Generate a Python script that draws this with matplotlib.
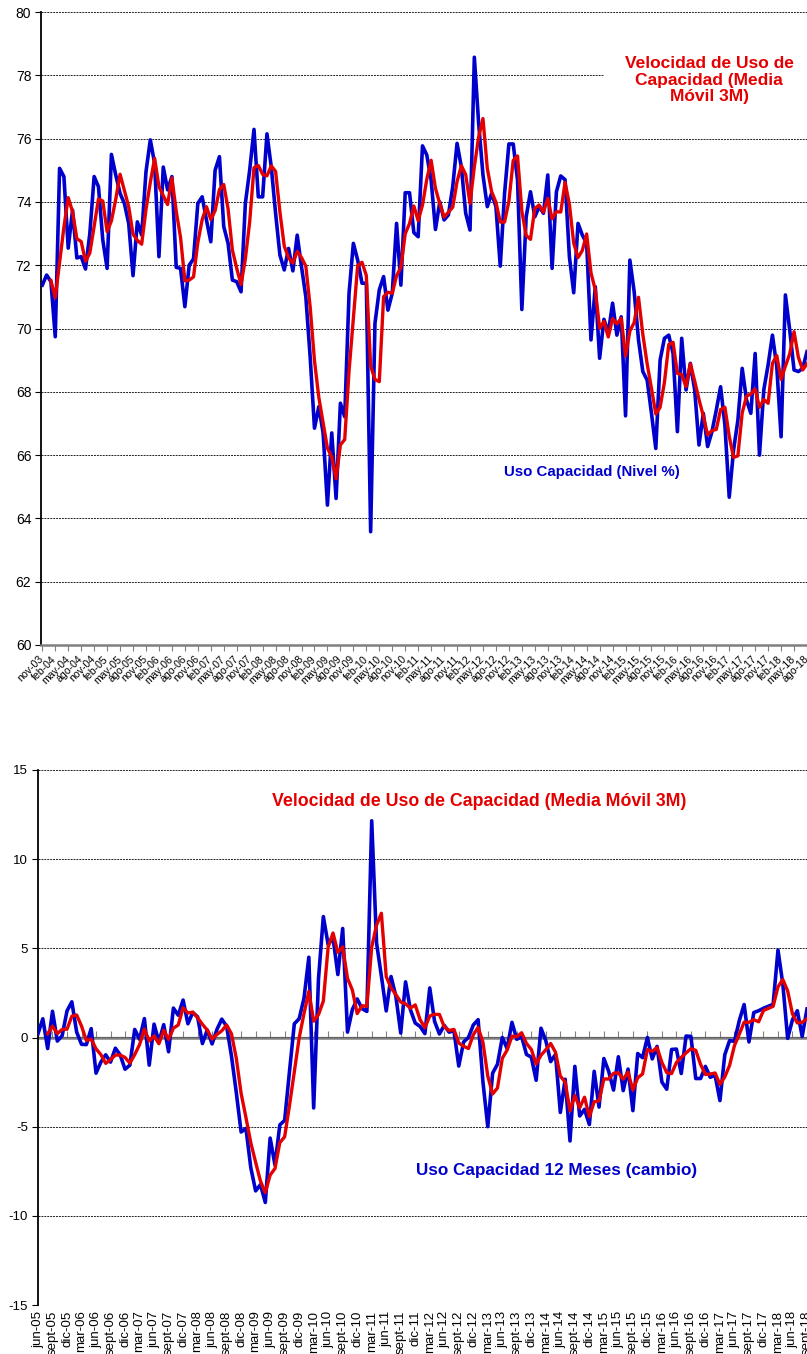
import matplotlib
matplotlib.use("Agg")
import matplotlib.pyplot as plt
import numpy as np
import pandas as pd

plt.rcParams['font.family'] = ['Liberation Sans', 'DejaVu Sans']
plt.rcParams['axes.unicode_minus'] = False

# Uso de capacidad, nivel % (mensual, nov-03 .. ago-18)
uso_nivel = [
    71.37, 71.69, 71.48, 69.74, 75.06, 74.80, 72.54, 73.74, 72.23, 72.27,
    71.88, 73.00, 74.80, 74.48, 72.80, 71.90, 75.50, 74.85, 74.27, 73.95,
    73.32, 71.67, 73.37, 72.95, 74.95, 75.96, 75.22, 72.27, 75.10, 74.38,
    74.80, 71.93, 71.90, 70.69, 72.00, 72.20, 73.95, 74.16, 73.43, 72.74,
    75.00, 75.43, 73.22, 72.69, 71.53, 71.48, 71.16, 73.95, 75.00, 76.29,
    74.16, 74.16, 76.15, 75.10, 73.64, 72.32, 71.85, 72.53, 71.82, 72.95,
    71.95, 71.00, 69.10, 66.85, 67.53, 66.70, 64.42, 66.70, 64.63, 67.64,
    67.21, 71.11, 72.69, 72.16, 71.43, 71.43, 63.58, 70.16, 71.22, 71.64,
    70.58, 71.11, 73.32, 71.37, 74.29, 74.29, 73.03, 72.90, 75.77, 75.48,
    74.69, 73.13, 74.00, 73.43, 73.59, 74.48, 75.85, 75.10, 73.64, 73.11,
    78.57, 76.48, 74.85, 73.85, 74.27, 73.85, 71.97, 74.27, 75.83, 75.83,
    74.69, 70.60, 73.53, 74.32, 73.53, 73.85, 73.64, 74.85, 71.90, 74.32,
    74.82, 74.70, 72.27, 71.13, 73.32, 72.95, 72.69, 69.64, 71.32, 69.06,
    70.29, 69.85, 70.80, 69.79, 70.37, 67.24, 72.16, 71.16, 69.64, 68.64,
    68.37, 67.32, 66.21, 69.00, 69.69, 69.79, 69.21, 66.74, 69.69, 68.06,
    68.90, 68.06, 66.32, 67.32, 66.27, 66.74, 67.42, 68.16, 66.95, 64.67,
    66.16, 67.10, 68.74, 67.74, 67.32, 69.21, 66.00, 68.06, 68.85, 69.79,
    68.80, 66.58, 71.06, 69.95, 68.69, 68.64, 68.74, 69.27,
]

# Uso de capacidad, cambio en 12 meses (jun-05 .. sept-18)
uso_12m = [
    0.21, 1.05, -0.62, 1.47, -0.20, 0.10, 1.49, 2.00, 0.30, -0.38,
    -0.40, 0.50, -2.00, -1.38, -0.97, -1.38, -0.60, -0.98, -1.78, -1.55,
    0.45, -0.10, 1.06, -1.55, 0.75, -0.25, 0.72, -0.80, 1.65, 1.25,
    2.10, 0.77, 1.40, 1.16, -0.34, 0.42, -0.36, 0.45, 1.03, 0.63,
    -1.03, -3.08, -5.30, -5.10, -7.30, -8.60, -8.25, -9.25, -5.64, -7.15,
    -4.90, -4.65, -1.90, 0.77, 1.05, 2.20, 4.50, -3.95, 3.30, 6.78,
    5.20, 5.60, 3.53, 6.11, 0.30, 1.57, 2.16, 1.62, 1.46, 12.15,
    5.30, 3.45, 1.49, 3.42, 2.30, 0.25, 3.12, 1.56, 0.81, 0.62,
    0.22, 2.78, 0.90, 0.20, 0.68, 0.30, 0.38, -1.60, -0.25, 0.00,
    0.70, 1.00, -2.50, -5.00, -2.00, -1.50, 0.00, -0.62, 0.85, -0.10,
    0.05, -0.95, -1.10, -2.40, 0.52, -0.18, -1.35, -0.95, -4.20, -2.34,
    -5.80, -1.62, -4.40, -4.03, -4.88, -1.90, -3.90, -1.18, -1.90, -2.95,
    -1.08, -2.98, -1.77, -4.10, -0.90, -1.13, 0.00, -1.20, -0.50, -2.50,
    -2.90, -0.67, -0.65, -2.02, 0.08, 0.06, -2.30, -2.30, -1.62, -2.23,
    -2.12, -3.54, -0.97, -0.17, -0.22, 0.95, 1.85, -0.25, 1.40, 1.50,
    1.64, 1.75, 1.86, 4.90, 3.00, -0.05, 1.00, 1.50, 0.06, 1.60,
]

meses = ['ene', 'feb', 'mar', 'abr', 'may', 'jun', 'jul', 'ago', 'sept', 'oct', 'nov', 'dic']

# tick labels every 3 months
top_labels = [f"{meses[(10 + i) % 12]}-{(3 + (10 + i) // 12):02d}" for i in range(0, len(uso_nivel), 3)]
bot_labels = [f"{meses[(5 + i) % 12]}-{(5 + (5 + i) // 12):02d}" for i in range(0, len(uso_12m), 3)]

azul = '#0000cc'
rojo = '#e40000'

x_top = np.arange(len(uso_nivel))
x_bot = np.arange(len(uso_12m))
media_top = pd.Series(uso_nivel).rolling(3).mean()
media_bot = pd.Series(uso_12m).rolling(3).mean()

fig = plt.figure(figsize=(8.07, 13.54), dpi=100)

# ---- top chart ----
ax1 = fig.add_axes([41 / 807, 1 - 645 / 1354, 766 / 807, 633 / 1354])
ax1.plot(x_top, uso_nivel, color=azul, lw=2.6, zorder=3)
ax1.plot(x_top, media_top, color=rojo, lw=2.4, zorder=4)
ax1.set_ylim(60, 80)
ax1.set_xlim(-0.3, 177)
ax1.set_yticks(np.arange(60, 81, 2))
ax1.set_yticklabels([str(v) for v in range(60, 81, 2)], fontsize=10)
ax1.set_xticks(x_top[::3])
ax1.set_xticklabels(top_labels, rotation=45, ha='right', va='center',
                    rotation_mode='anchor', fontsize=7.6)
ax1.yaxis.grid(True, color='#222222', linestyle=(0, (2, 1)), lw=0.7)
ax1.set_axisbelow(True)
for s in ['top', 'right']:
    ax1.spines[s].set_visible(False)
ax1.spines['left'].set_linewidth(1.3)
ax1.spines['bottom'].set_color('#808080')
ax1.spines['bottom'].set_linewidth(1.8)
ax1.tick_params(axis='x', length=4, color='#808080', pad=5)
ax1.tick_params(axis='y', length=4, pad=3)

fig.text(709 / 807, 1 - 80 / 1354, 'Velocidad de Uso de\nCapacidad (Media\nMóvil 3M)',
         color=rojo, fontsize=12.5, fontweight='bold', ha='center', va='center',
         linespacing=1.15,
         bbox=dict(boxstyle='square,pad=1.2', fc='white', ec='none'))
fig.text(592 / 807, 1 - 472 / 1354, 'Uso Capacidad (Nivel %)', color=azul,
         fontsize=10.8, fontweight='bold', ha='center', va='center')

# ---- bottom chart ----
ax2 = fig.add_axes([37.5 / 807, 1 - 1305 / 1354, 769.5 / 807, 535 / 1354])
ax2.axhline(0, color='#808080', lw=1.8, zorder=2)
ax2.plot(x_bot, uso_12m, color=azul, lw=2.6, zorder=3)
ax2.plot(x_bot, media_bot, color=rojo, lw=2.4, zorder=4)
ax2.set_ylim(-15, 15)
ax2.set_xlim(-0.1, 159)
ax2.set_yticks(np.arange(-15, 16, 5))
ax2.set_yticklabels([str(v) for v in range(-15, 16, 5)], fontsize=9.5)
ax2.set_xticks(x_bot[::3])
ax2.set_xticklabels(bot_labels, rotation=90, fontsize=9.5)
ax2.tick_params(axis='x', length=0, pad=4)
ax2.tick_params(axis='y', length=4, pad=3)
ax2.yaxis.grid(True, color='#222222', linestyle=(0, (2, 1)), lw=0.7)
ax2.set_axisbelow(True)
for s in ['top', 'right', 'bottom']:
    ax2.spines[s].set_visible(False)
ax2.spines['left'].set_linewidth(1.3)

# tick marks on the zero line
sec = ax2.secondary_xaxis(0.5)
sec.set_xticks(x_bot[::3])
sec.set_xticklabels([])
sec.tick_params(length=4, color='#808080')
sec.spines['bottom'].set_visible(False)

fig.text(479 / 807, 1 - 802 / 1354, 'Velocidad de Uso de Capacidad (Media Móvil 3M)',
         color=rojo, fontsize=12.8, fontweight='bold', ha='center', va='center')
fig.text(557 / 807, 1 - 1170 / 1354, 'Uso Capacidad 12 Meses (cambio)', color=azul,
         fontsize=12.3, fontweight='bold', ha='center', va='center')

fig.savefig('out.png', dpi=100)
